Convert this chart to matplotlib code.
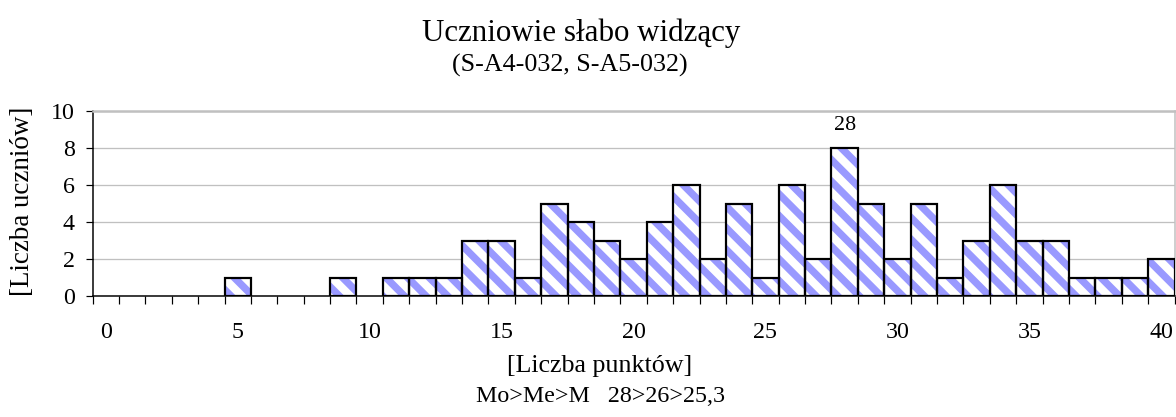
import matplotlib
matplotlib.use('Agg')
import matplotlib.pyplot as plt
import numpy as np

# ---- data ----
points = list(range(0, 41))
counts = [0, 0, 0, 0, 0, 1, 0, 0, 0, 1, 0, 1, 1, 1, 3, 3, 1, 5, 4, 3, 2,
          4, 6, 2, 5, 1, 6, 2, 8, 5, 2, 5, 1, 3, 6, 3, 3, 1, 1, 1, 2]
xtick_values = [0, 5, 10, 15, 20, 25, 30, 35, 40]
yticks = [0, 2, 4, 6, 8, 10]
title = "Uczniowie słabo widzący"
subtitle = "(S-A4-032, S-A5-032)"
xlabel = "[Liczba punktów]"
ylabel = "[Liczba uczniów]"
stats_text = "Mo>Me>M   28>26>25,3"
mode_value = 28

# ---- layout ----
DPI = 130
W, H = 1176, 417
PX = 72.0 / DPI  # points per pixel

plt.rcParams['font.family'] = ['Liberation Serif', 'DejaVu Serif']
plt.rcParams['hatch.linewidth'] = 7.3 * PX

fig = plt.figure(figsize=(W / DPI, H / DPI), dpi=DPI)
left, right, top, bottom = 92.6, 1174.5, 111, 296
ax = fig.add_axes([left / W, 1 - bottom / H, (right - left) / W, (bottom - top) / H])

x = np.array(points)
c = np.array(counts)
mask = c > 0
ax.bar(x[mask], c[mask], width=1.0, color='white', edgecolor='#9999FF',
       linewidth=0, hatch='\\\\', zorder=2)
ax.bar(x[mask], c[mask], width=1.0, fill=False, edgecolor='black',
       linewidth=2.2 * PX, zorder=3)

ax.set_xlim(-0.5, 40.5)
ax.set_ylim(0, 10)

# grid
ax.set_yticks(yticks)
ax.yaxis.grid(True, color='#C0C0C0', linewidth=1.3 * PX, zorder=0)
ax.set_axisbelow(True)

# spines
ax.spines['top'].set_color('#C0C0C0')
ax.spines['top'].set_linewidth(2.5 * PX)
ax.spines['right'].set_color('#C0C0C0')
ax.spines['right'].set_linewidth(1.5 * PX)
ax.spines['left'].set_color('black')
ax.spines['left'].set_linewidth(1.5 * PX)
ax.spines['bottom'].set_color('black')
ax.spines['bottom'].set_linewidth(1.5 * PX)

# x ticks
points_idx = {p: i for i, p in enumerate(points)}
ax.set_xticks([points_idx[v] for v in xtick_values])
ax.set_xticklabels([str(v) for v in xtick_values])
ax.set_xticks(np.arange(-0.5, len(points), 1.0), minor=True)
ax.tick_params(axis='x', which='major', length=0, pad=26 * PX, labelsize=24 * PX)
ax.tick_params(axis='x', which='minor', length=8 * PX, width=1.2 * PX,
               direction='out', color='black')
ax.tick_params(axis='y', which='major', length=7 * PX, width=1.2 * PX,
               direction='out', pad=11 * PX, labelsize=24 * PX)

# mode annotation
ax.annotate(str(mode_value), xy=(points_idx[mode_value], counts[points_idx[mode_value]]),
            xytext=(0, 23 * PX), textcoords='offset points',
            ha='center', va='center', fontsize=22 * PX)

# texts
fig.text(581 / W, 1 - 33 / H, title, ha='center', va='center', fontsize=31 * PX)
fig.text(570 / W, 1 - 65 / H, subtitle, ha='center', va='center', fontsize=26 * PX)
fig.text(600 / W, 1 - 366 / H, xlabel, ha='center', va='center', fontsize=26 * PX)
fig.text(601 / W, 1 - 397 / H, stats_text, ha='center', va='center', fontsize=24 * PX)
fig.text(23 / W, 1 - 201 / H, ylabel, ha='center', va='center', rotation=90,
         fontsize=27 * PX)

fig.savefig('out.png', dpi=DPI)
